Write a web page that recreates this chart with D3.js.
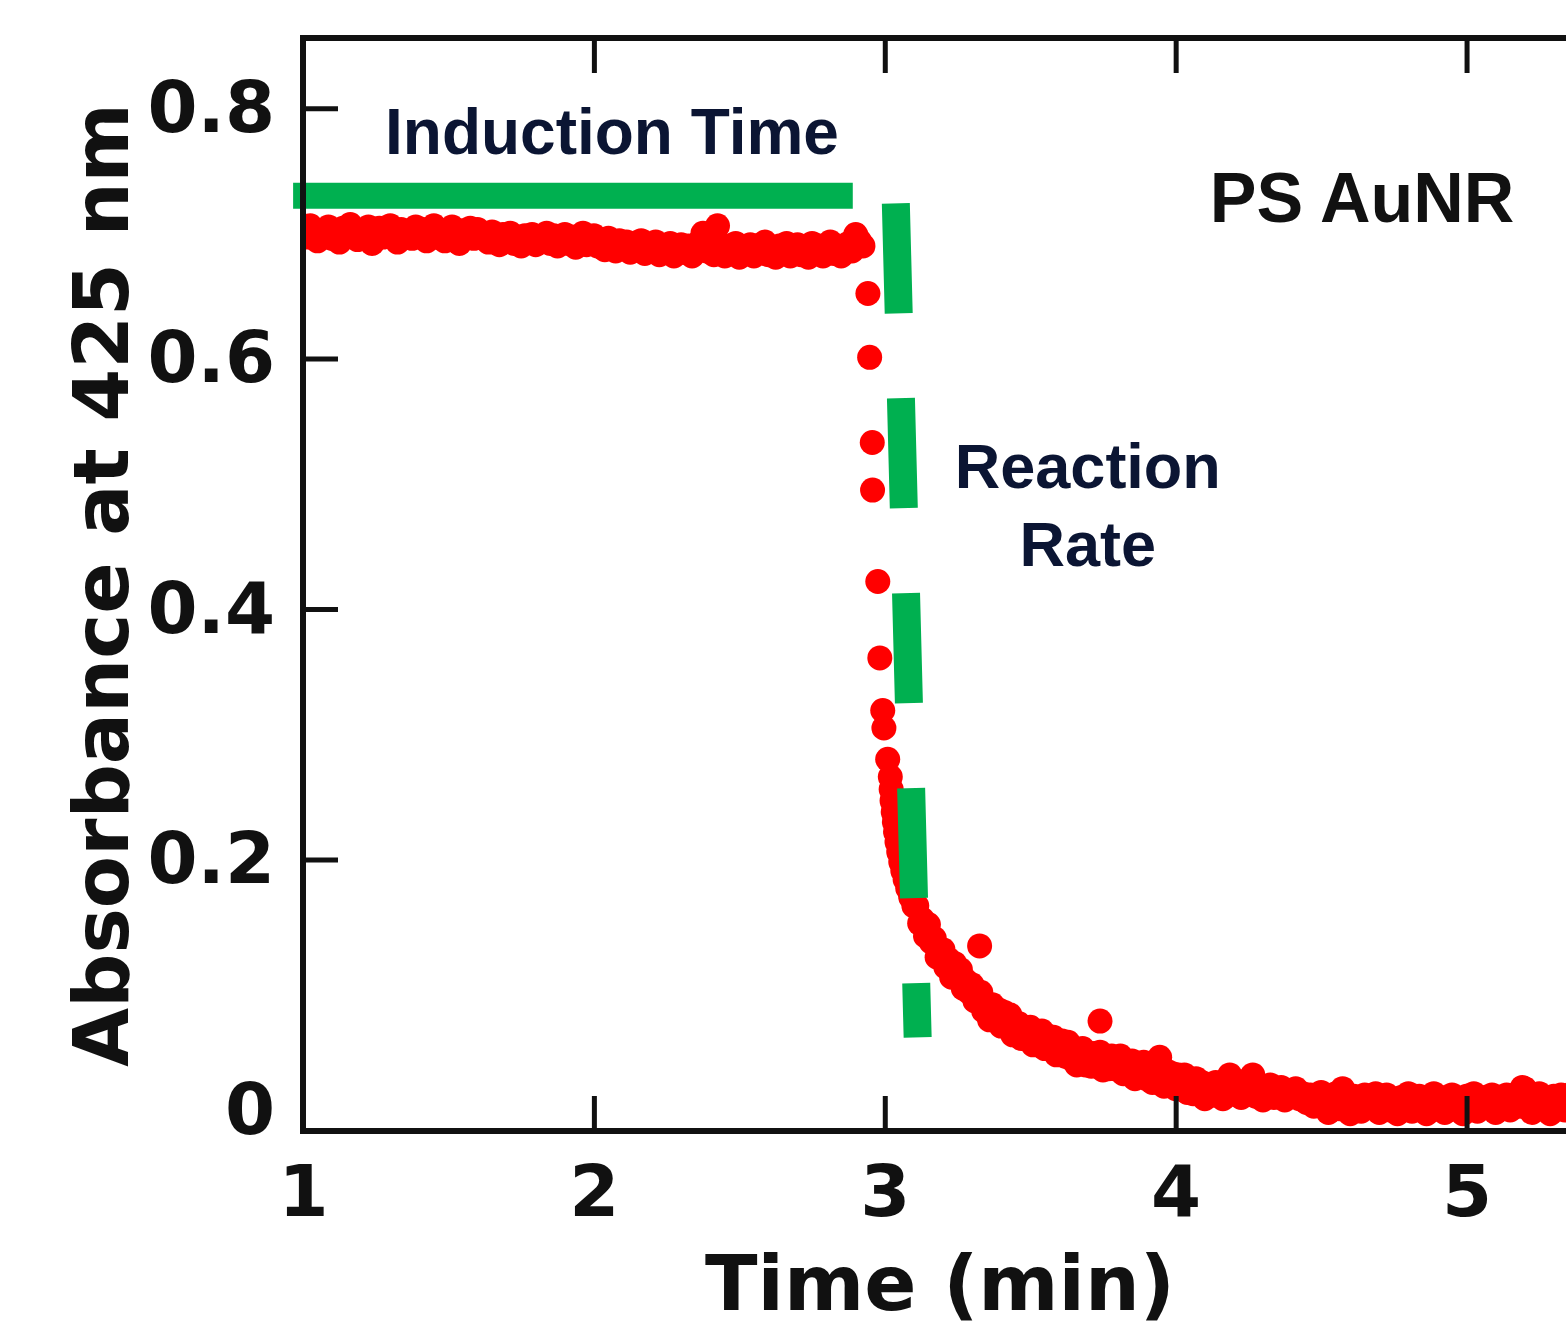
<!DOCTYPE html>
<html>
<head>
<meta charset="utf-8">
<script src="https://cdn.jsdelivr.net/npm/d3@7"></script>
<style>
  html, body { margin: 0; padding: 0; background: #fff; }
  svg { display: block; }
</style>
</head>
<body>
<svg id="chart" width="1566" height="1335"></svg>
<script>
// absorbance at 425 nm, as [time (min), absorbance]
const inductionPhase = [
  [1.0000, 0.703], [1.0125, 0.697], [1.0250, 0.706], [1.0375, 0.700], [1.0500, 0.694], [1.0625, 0.702], [1.0750, 0.699], [1.0875, 0.705],
  [1.1000, 0.696], [1.1125, 0.701], [1.1250, 0.693], [1.1375, 0.704], [1.1500, 0.698], [1.1625, 0.707], [1.1750, 0.700], [1.1875, 0.695],
  [1.2000, 0.702], [1.2125, 0.698], [1.2250, 0.705], [1.2375, 0.692], [1.2500, 0.700], [1.2625, 0.704], [1.2750, 0.697], [1.2875, 0.701],
  [1.3000, 0.706], [1.3125, 0.699], [1.3250, 0.693], [1.3375, 0.703], [1.3500, 0.698], [1.3625, 0.701], [1.3750, 0.696], [1.3875, 0.705],
  [1.4000, 0.699], [1.4125, 0.703], [1.4250, 0.694], [1.4375, 0.700], [1.4500, 0.706], [1.4625, 0.697], [1.4750, 0.702], [1.4875, 0.694],
  [1.5000, 0.701], [1.5125, 0.705], [1.5250, 0.698], [1.5375, 0.692], [1.5500, 0.702], [1.5625, 0.699], [1.5750, 0.704], [1.5875, 0.696],
  [1.6000, 0.703], [1.6125, 0.697], [1.6250, 0.700], [1.6375, 0.693], [1.6500, 0.701], [1.6625, 0.698], [1.6750, 0.691], [1.6875, 0.699],
  [1.7000, 0.695], [1.7125, 0.700], [1.7250, 0.692], [1.7375, 0.697], [1.7500, 0.690], [1.7625, 0.698], [1.7750, 0.693], [1.7875, 0.699],
  [1.8000, 0.691], [1.8125, 0.697], [1.8250, 0.694], [1.8375, 0.700], [1.8500, 0.692], [1.8625, 0.698], [1.8750, 0.690], [1.8875, 0.696],
  [1.9000, 0.699], [1.9125, 0.692], [1.9250, 0.697], [1.9375, 0.689], [1.9500, 0.695], [1.9625, 0.700], [1.9750, 0.691], [1.9875, 0.696],
  [2.0000, 0.698], [2.0125, 0.690], [2.0250, 0.694], [2.0375, 0.687], [2.0500, 0.696], [2.0625, 0.691], [2.0750, 0.686], [2.0875, 0.694],
  [2.1000, 0.689], [2.1125, 0.693], [2.1250, 0.685], [2.1375, 0.692], [2.1500, 0.688], [2.1625, 0.694], [2.1750, 0.684], [2.1875, 0.691],
  [2.2000, 0.687], [2.2125, 0.693], [2.2250, 0.683], [2.2375, 0.690], [2.2500, 0.686], [2.2625, 0.692], [2.2750, 0.682], [2.2875, 0.689],
  [2.3000, 0.691], [2.3125, 0.685], [2.3250, 0.690], [2.3375, 0.682], [2.3500, 0.688], [2.3625, 0.693], [2.3750, 0.700], [2.3875, 0.686],
  [2.4000, 0.691], [2.4125, 0.683], [2.4250, 0.706], [2.4375, 0.688], [2.4500, 0.682], [2.4625, 0.690], [2.4750, 0.685], [2.4875, 0.692],
  [2.5000, 0.681], [2.5125, 0.689], [2.5250, 0.685], [2.5375, 0.691], [2.5500, 0.682], [2.5625, 0.690], [2.5750, 0.686], [2.5875, 0.693],
  [2.6000, 0.683], [2.6125, 0.689], [2.6250, 0.681], [2.6375, 0.690], [2.6500, 0.685], [2.6625, 0.692], [2.6750, 0.682], [2.6875, 0.688],
  [2.7000, 0.691], [2.7125, 0.683], [2.7250, 0.689], [2.7375, 0.681], [2.7500, 0.692], [2.7625, 0.686], [2.7750, 0.690], [2.7875, 0.682],
  [2.8000, 0.688], [2.8125, 0.693], [2.8250, 0.684], [2.8375, 0.690], [2.8500, 0.682], [2.8625, 0.689], [2.8750, 0.692], [2.8875, 0.686],
  [2.9000, 0.699], [2.9125, 0.694], [2.9250, 0.690],
];

const dropPhase = [
  [2.942, 0.652], [2.948, 0.601], [2.957, 0.533], [2.958, 0.495], [2.976, 0.422], [2.983, 0.361],
  [2.993, 0.319], [2.997, 0.305], [3.010, 0.280], [3.019, 0.266], [3.022, 0.256], [3.025, 0.247],
  [3.029, 0.238], [3.033, 0.230], [3.037, 0.222], [3.042, 0.214], [3.048, 0.206], [3.055, 0.198],
  [3.062, 0.191], [3.070, 0.184], [3.079, 0.177], [3.089, 0.170], [3.100, 0.163],
];

const decayPhase = [
  [3.11, 0.163], [3.12, 0.149], [3.13, 0.152], [3.14, 0.139], [3.15, 0.148], [3.16, 0.134], [3.17, 0.137], [3.18, 0.122], [3.19, 0.128], [3.20, 0.128],
  [3.21, 0.114], [3.22, 0.120], [3.23, 0.106], [3.24, 0.117], [3.25, 0.106], [3.26, 0.112], [3.27, 0.097], [3.28, 0.103], [3.29, 0.094], [3.30, 0.100],
  [3.31, 0.087], [3.32, 0.094], [3.33, 0.094], [3.34, 0.079], [3.35, 0.085], [3.36, 0.072], [3.37, 0.084], [3.38, 0.073], [3.39, 0.080], [3.40, 0.067],
  [3.41, 0.078], [3.42, 0.066], [3.43, 0.076], [3.44, 0.060], [3.45, 0.069], [3.46, 0.069], [3.47, 0.057], [3.48, 0.066], [3.49, 0.058], [3.50, 0.066],
  [3.51, 0.052], [3.52, 0.062], [3.53, 0.054], [3.54, 0.063], [3.55, 0.049], [3.56, 0.059], [3.57, 0.049], [3.58, 0.058], [3.59, 0.044], [3.60, 0.053],
  [3.61, 0.055], [3.62, 0.043], [3.63, 0.054], [3.64, 0.041], [3.65, 0.049], [3.66, 0.036], [3.67, 0.046], [3.68, 0.049], [3.69, 0.036], [3.70, 0.045],
  [3.71, 0.035], [3.72, 0.045], [3.73, 0.037], [3.74, 0.046], [3.75, 0.032], [3.76, 0.042], [3.77, 0.033], [3.78, 0.043], [3.79, 0.033], [3.80, 0.039],
  [3.81, 0.043], [3.82, 0.029], [3.83, 0.039], [3.84, 0.031], [3.85, 0.039], [3.86, 0.025], [3.87, 0.037], [3.88, 0.027], [3.89, 0.038], [3.90, 0.025],
  [3.91, 0.033], [3.92, 0.022], [3.93, 0.035], [3.94, 0.022], [3.95, 0.029], [3.96, 0.019], [3.97, 0.031], [3.98, 0.020], [3.99, 0.029], [4.00, 0.017],
  [4.01, 0.028], [4.02, 0.017], [4.03, 0.028], [4.04, 0.014], [4.05, 0.023], [4.06, 0.013], [4.07, 0.025], [4.08, 0.014], [4.09, 0.022], [4.10, 0.009],
];

const tailPhase = [
  [4.1125, 0.019], [4.1250, 0.012], [4.1375, 0.022], [4.1500, 0.015], [4.1625, 0.009], [4.1750, 0.018], [4.1875, 0.026], [4.2000, 0.013],
  [4.2125, 0.017], [4.2250, 0.010], [4.2375, 0.021], [4.2500, 0.014], [4.2625, 0.027], [4.2750, 0.011], [4.2875, 0.016], [4.3000, 0.008],
  [4.3125, 0.015], [4.3250, 0.020], [4.3375, 0.010], [4.3500, 0.013], [4.3625, 0.018], [4.3750, 0.008], [4.3875, 0.014], [4.4000, 0.011],
  [4.4125, 0.017], [4.4250, 0.009], [4.4375, 0.013], [4.4500, 0.006], [4.4625, 0.012], [4.4750, 0.003], [4.4875, 0.010], [4.5000, 0.014],
  [4.5125, 0.005], [4.5250, -0.002], [4.5375, 0.009], [4.5500, 0.013], [4.5625, 0.001], [4.5750, 0.016], [4.5875, 0.006], [4.6000, -0.003],
  [4.6125, 0.011], [4.6250, 0.004], [4.6375, -0.001], [4.6500, 0.012], [4.6625, 0.007], [4.6750, 0.002], [4.6875, 0.013], [4.7000, -0.002],
  [4.7125, 0.008], [4.7250, 0.012], [4.7375, 0.000], [4.7500, 0.006], [4.7625, -0.003], [4.7750, 0.010], [4.7875, 0.004], [4.8000, 0.013],
  [4.8125, -0.001], [4.8250, 0.007], [4.8375, 0.011], [4.8500, 0.002], [4.8625, -0.003], [4.8750, 0.009], [4.8875, 0.013], [4.9000, 0.004],
  [4.9125, 0.010], [4.9250, -0.002], [4.9375, 0.006], [4.9500, 0.012], [4.9625, 0.001], [4.9750, 0.008], [4.9875, -0.003], [5.0000, 0.011],
  [5.0125, 0.005], [5.0250, 0.013], [5.0375, -0.001], [5.0500, 0.007], [5.0625, 0.010], [5.0750, 0.002], [5.0875, 0.012], [5.1000, -0.002],
  [5.1125, 0.009], [5.1250, 0.004], [5.1375, 0.012], [5.1500, 0.000], [5.1625, 0.008], [5.1750, 0.013], [5.1875, 0.003], [5.2000, 0.017],
  [5.2125, 0.006], [5.2250, -0.002], [5.2375, 0.010], [5.2500, 0.013], [5.2625, 0.001], [5.2750, 0.008], [5.2875, -0.003], [5.3000, 0.011],
  [5.3125, 0.004], [5.3250, 0.012], [5.3375, 0.000], [5.3500, 0.009], [5.3625, 0.013], [5.3750, -0.002], [5.3875, 0.007], [5.4000, 0.010],
];

// the few points that sit off the band
const strayPoints = [
  [3.326, 0.131], [3.740, 0.071], [3.945, 0.042], [4.186, 0.028], [4.265, 0.028], [4.574, 0.017],
  [5.192, 0.018],
];

const xTicks = [1, 2, 3, 4, 5];
const yTicks = [0, 0.2, 0.4, 0.6, 0.8];

// green guide lines
const inductionGuide = [[0.966, 0.730], [2.890, 0.730]];
const rateGuide = [[3.038, 0.724], [3.113, 0.058]];

const FONT = "'DejaVu Sans', Verdana, sans-serif";
const NOTE_FONT = "'Liberation Sans', Arial, sans-serif";

let svg = d3.select('svg#chart');

let plot = { left: 303, right: 1580, top: 38, bottom: 1131 };

let x = d3.scaleLinear().domain([1, 5.39]).range([plot.left, plot.right]);
let y = d3.scaleLinear().domain([-0.0168, 0.856]).range([plot.bottom, plot.top]);

svg.append('defs').append('clipPath').attr('id', 'plot-clip')
  .append('rect')
  .attr('x', plot.left)
  .attr('y', plot.top)
  .attr('width', plot.right - plot.left)
  .attr('height', plot.bottom - plot.top);

let points = [].concat(inductionPhase, dropPhase, decayPhase, tailPhase, strayPoints);

svg.append('g')
  .attr('clip-path', 'url(#plot-clip)')
  .selectAll('circle')
  .data(points)
  .join('circle')
  .attr('cx', d => x(d[0]))
  .attr('cy', d => y(d[1]))
  .attr('r', 12.5)
  .style('fill', '#ff0000');

let line = d3.line().x(d => x(d[0])).y(d => y(d[1]));

svg.append('path')
  .attr('d', line(inductionGuide))
  .style('fill', 'none')
  .style('stroke', '#00b050')
  .style('stroke-width', 26);

svg.append('path')
  .attr('d', line(rateGuide))
  .style('fill', 'none')
  .style('stroke', '#00b050')
  .style('stroke-width', 28)
  .style('stroke-dasharray', '110 85');

// axes: ticks point inward
let xAxis = d3.axisBottom(x).tickValues(xTicks).tickSize(-35).tickPadding(34).tickFormat(d3.format('d'));
let xAxisTop = d3.axisTop(x).tickValues(xTicks).tickSize(-35).tickFormat('');
let yAxis = d3.axisLeft(y).tickValues(yTicks).tickSize(-35).tickPadding(28)
  .tickFormat(d => d === 0 ? '0' : d3.format('.1f')(d));

function styleAxis(g) {
  g.select('.domain').remove();
  g.selectAll('.tick line').style('stroke', '#111').style('stroke-width', 5);
  g.selectAll('.tick text')
    .style('font-family', FONT)
    .style('font-weight', 'bold')
    .style('font-size', '72px')
    .style('fill', '#111');
}

svg.append('g').attr('transform', `translate(0,${plot.bottom})`).call(xAxis).call(styleAxis);
svg.append('g').attr('transform', `translate(0,${plot.top})`).call(xAxisTop).call(styleAxis);
svg.append('g').attr('transform', `translate(${plot.left},0)`).call(yAxis).call(styleAxis)
  .selectAll('.tick').filter(d => d === 0).select('line').remove();

// frame (right side runs off the picture)
svg.append('path')
  .attr('d', `M${plot.right},${plot.top}H${plot.left}V${plot.bottom}H${plot.right}`)
  .style('fill', 'none')
  .style('stroke', '#111')
  .style('stroke-width', 6)
  .style('stroke-linejoin', 'miter');

svg.append('text')
  .attr('x', 940)
  .attr('y', 1310)
  .attr('text-anchor', 'middle')
  .style('font-family', FONT)
  .style('font-weight', 'bold')
  .style('font-size', '77px')
  .style('fill', '#111')
  .text('Time (min)');

svg.append('text')
  .attr('transform', 'translate(128,585) rotate(-90)')
  .attr('text-anchor', 'middle')
  .style('font-family', FONT)
  .style('font-weight', 'bold')
  .style('font-size', '76px')
  .style('fill', '#111')
  .text('Absorbance at 425 nm');

// annotations
let notes = [
  { text: 'Induction Time', t: 1.282, a: 0.763, anchor: 'start', size: 64, color: '#0b1533' },
  { text: 'Reaction', t: 3.698, a: 0.497, anchor: 'middle', size: 63, color: '#0b1533' },
  { text: 'Rate', t: 3.698, a: 0.434, anchor: 'middle', size: 63, color: '#0b1533' },
  { text: 'PS AuNR', t: 4.117, a: 0.709, anchor: 'start', size: 70, color: '#111' },
];

svg.append('g').selectAll('text')
  .data(notes)
  .join('text')
  .attr('x', d => x(d.t))
  .attr('y', d => y(d.a))
  .attr('text-anchor', d => d.anchor)
  .style('font-family', NOTE_FONT)
  .style('font-weight', 'bold')
  .style('font-size', d => d.size + 'px')
  .style('fill', d => d.color)
  .text(d => d.text);
</script>
</body>
</html>
